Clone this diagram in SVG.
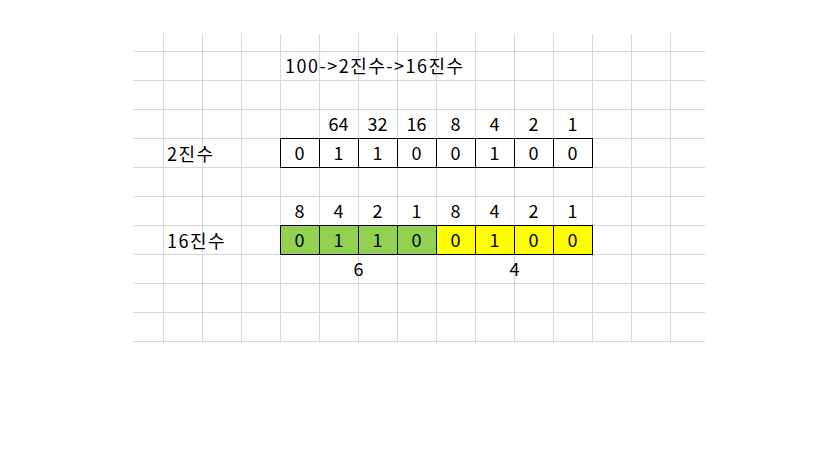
<svg xmlns="http://www.w3.org/2000/svg" width="837" height="458" viewBox="0 0 837 458">
  <style>
    .grid { stroke: #d0d7e5; stroke-width: 1; fill: none; }
    .cell { stroke: #000; stroke-width: 1; }
    .t { font-family: "Noto Sans CJK KR", "Liberation Sans", sans-serif; font-size: 18px; fill: #000; }
    .c { text-anchor: middle; }
    .w { letter-spacing: 1.5px; }
  </style>
  <rect width="837" height="458" fill="#fff"/>
  <g id="grid" class="grid">
    <path d="M163.5 34V343M202.5 34V343M241.5 34V343M280.5 34V343M319.5 34V343M358.5 34V343M397.5 34V343M436.5 34V343M475.5 34V343M514.5 34V343M553.5 34V343M592.5 34V343M631.5 34V343M670.5 34V343"/>
    <path d="M133 51.5H705M133 80.5H705M133 109.5H705M133 138.5H705M133 167.5H705M133 196.5H705M133 225.5H705M133 254.5H705M133 283.5H705M133 312.5H705M133 341.5H705"/>
  </g>
  <g id="title">
    <text class="t w" x="285" y="73">100-&gt;2진수-&gt;16진수</text>
  </g>
  <g id="label-bin">
    <text class="t w" x="167" y="161">2진수</text>
  </g>
  <g id="label-hex">
    <text class="t w" x="167" y="248">16진수</text>
  </g>
  <g id="weights-bin" class="t c">
    <text x="338.5" y="131">64</text>
    <text x="377.5" y="131">32</text>
    <text x="416.5" y="131">16</text>
    <text x="455.5" y="131">8</text>
    <text x="494.5" y="131">4</text>
    <text x="533.5" y="131">2</text>
    <text x="572.5" y="131">1</text>
  </g>
  <g id="row-bin">
    <g class="cell">
      <rect x="280.5" y="138.5" width="312" height="29" fill="#fff"/>
      <path d="M319.5 138.5V167.5M358.5 138.5V167.5M397.5 138.5V167.5M436.5 138.5V167.5M475.5 138.5V167.5M514.5 138.5V167.5M553.5 138.5V167.5"/>
    </g>
    <g class="t c">
      <text x="299.5" y="160">0</text>
      <text x="338.5" y="160">1</text>
      <text x="377.5" y="160">1</text>
      <text x="416.5" y="160">0</text>
      <text x="455.5" y="160">0</text>
      <text x="494.5" y="160">1</text>
      <text x="533.5" y="160">0</text>
      <text x="572.5" y="160">0</text>
    </g>
  </g>
  <g id="weights-hex" class="t c">
    <text x="299.5" y="218">8</text>
    <text x="338.5" y="218">4</text>
    <text x="377.5" y="218">2</text>
    <text x="416.5" y="218">1</text>
    <text x="455.5" y="218">8</text>
    <text x="494.5" y="218">4</text>
    <text x="533.5" y="218">2</text>
    <text x="572.5" y="218">1</text>
  </g>
  <g id="row-hex">
    <g class="cell">
      <rect x="280.5" y="225.5" width="156" height="29" fill="#92d050"/>
      <rect x="436.5" y="225.5" width="156" height="29" fill="#ffff00"/>
      <path d="M319.5 225.5V254.5M358.5 225.5V254.5M397.5 225.5V254.5M475.5 225.5V254.5M514.5 225.5V254.5M553.5 225.5V254.5"/>
    </g>
    <g class="t c">
      <text x="299.5" y="247">0</text>
      <text x="338.5" y="247">1</text>
      <text x="377.5" y="247">1</text>
      <text x="416.5" y="247">0</text>
      <text x="455.5" y="247">0</text>
      <text x="494.5" y="247">1</text>
      <text x="533.5" y="247">0</text>
      <text x="572.5" y="247">0</text>
    </g>
  </g>
  <g id="hex-values" class="t c">
    <text x="358.5" y="276">6</text>
    <text x="514.5" y="276">4</text>
  </g>
</svg>
